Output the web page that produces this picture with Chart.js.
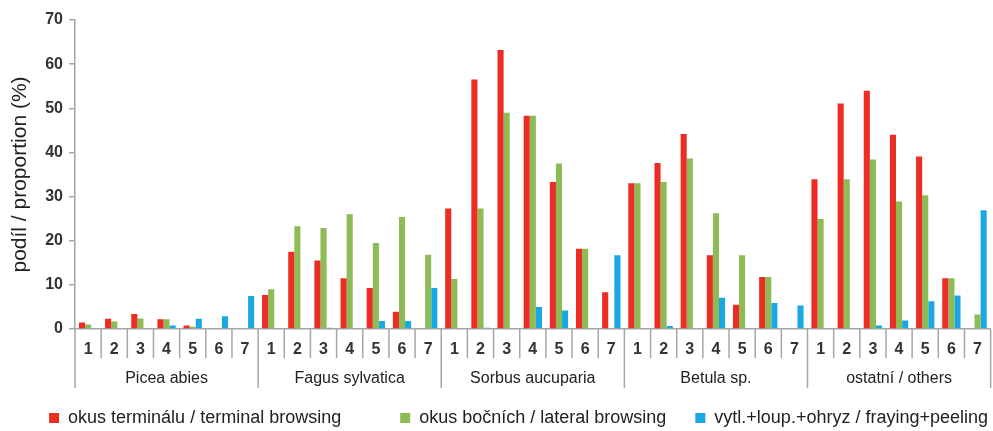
<!DOCTYPE html>
<html>
<head>
<meta charset="utf-8">
<script src="https://cdn.jsdelivr.net/npm/chart.js@4"></script>
<style>
  html, body { margin: 0; padding: 0; background: #fff; }
  #wrap { width: 993px; height: 431px; }
</style>
</head>
<body>
<div id="wrap"><canvas id="chart"></canvas></div>
<script>
// species groups, each with categories 1..7
const groups = ['Picea abies', 'Fagus sylvatica', 'Sorbus aucuparia', 'Betula sp.', 'ostatní / others'];
const classes = ['1', '2', '3', '4', '5', '6', '7'];
const yTicks = [0, 10, 20, 30, 40, 50, 60, 70];

// values (%)
const terminal = [
    1.5, 2.3, 3.4, 2.2, 0.8, 0, 0,
    7.7, 17.5, 15.5, 11.5, 9.3, 3.9, 0,
    27.3, 56.5, 63.2, 48.3, 33.3, 18.2, 8.3,
    33.0, 37.6, 44.2, 16.7, 5.5, 11.8, 0,
    33.9, 51.1, 54.0, 44.0, 39.1, 11.5, 0
];
const lateral = [
    1.0, 1.7, 2.4, 2.2, 0.5, 0.2, 0.2,
    9.0, 23.3, 22.9, 26.0, 19.5, 25.4, 16.8,
    11.3, 27.3, 49.0, 48.3, 37.5, 18.2, 0,
    33.0, 33.3, 38.6, 26.2, 16.7, 11.8, 0,
    24.9, 33.9, 38.4, 28.9, 30.3, 11.5, 3.3
];
const fraying = [
    0, 0, 0, 0.8, 2.3, 2.9, 7.5,
    0, 0, 0.3, 0, 1.8, 1.8, 9.3,
    0, 0.3, 0, 5.0, 4.2, 0, 16.7,
    0, 0.7, 0, 7.1, 0, 5.9, 5.3,
    0, 0.2, 0.8, 1.9, 6.3, 7.6, 26.9
];

const labels = [];
groups.forEach(() => classes.forEach(c => labels.push(c)));

const colors = ['#ec2d24', '#8dbb55', '#19a8e4'];
const axisGray = '#a6a6a6';
const family = 'Liberation Sans, Arial, sans-serif';

function bars(label, data, color) {
    return {
        label: label,
        data: data,
        backgroundColor: color,
        borderWidth: 0,
        barPercentage: 1.0,
        categoryPercentage: 0.7
    };
}

// boxes round the category numbers, longer lines between species
const cellLines = {
    id: 'cellLines',
    afterDraw(chart) {
        const x = chart.scales.x;
        const ctx = chart.ctx;
        const w = (x.right - x.left) / labels.length;
        ctx.save();
        ctx.strokeStyle = axisGray;
        ctx.lineWidth = 1.5;
        for (let i = 0; i <= labels.length; i++) {
            const px = x.left + i * w;
            const len = i % classes.length === 0 ? 59 : 29;
            ctx.beginPath();
            ctx.moveTo(px, x.top);
            ctx.lineTo(px, x.top + len);
            ctx.stroke();
        }
        ctx.restore();
    }
};

// extra spacing after the first two legend entries
const legendGaps = ['\u00a0'.repeat(10), '\u00a0'.repeat(4), ''];

new Chart(document.getElementById('chart'), {
    type: 'bar',
    data: {
        labels: labels,
        datasets: [
            bars('okus terminálu / terminal browsing', terminal, colors[0]),
            bars('okus bočních / lateral browsing', lateral, colors[1]),
            bars('vytl.+loup.+ohryz / fraying+peeling', fraying, colors[2])
        ]
    },
    plugins: [cellLines],
    options: {
        responsive: true,
        maintainAspectRatio: false,
        animation: false,
        layout: { padding: { top: 20, right: -4, left: 8, bottom: -6 } },
        scales: {
            x: {
                offset: true,
                grid: { display: false, drawTicks: false },
                border: { color: axisGray, width: 1.5 },
                afterFit: axis => { axis.height = 30; },
                ticks: {
                    font: { family: family, size: 16, weight: 'bold' },
                    color: '#333',
                    padding: 11,
                    maxRotation: 0,
                    autoSkip: false
                }
            },
            x2: {
                type: 'category',
                labels: groups,
                position: 'bottom',
                offset: true,
                grid: { display: false, drawTicks: false },
                border: { display: false },
                afterFit: axis => { axis.height = 41; },
                ticks: {
                    font: { family: family, size: 16 },
                    color: '#222',
                    padding: 10,
                    maxRotation: 0
                }
            },
            y: {
                min: 0,
                max: 70,
                afterBuildTicks: axis => {
                    axis.ticks = yTicks.map(v => ({ value: v }));
                },
                grid: {
                    drawOnChartArea: false,
                    color: axisGray,
                    lineWidth: 1.5,
                    tickLength: 6
                },
                border: { color: axisGray, width: 1.5 },
                ticks: {
                    font: { family: family, size: 16, weight: 'bold' },
                    color: '#333',
                    padding: 6
                },
                title: {
                    display: true,
                    text: 'podíl / proportion (%)',
                    font: { family: family, size: 21 },
                    color: '#222',
                    padding: { top: 0, bottom: 6 }
                }
            }
        },
        plugins: {
            legend: {
                position: 'bottom',
                align: 'end',
                labels: {
                    font: { family: family, size: 18 },
                    color: '#222',
                    boxWidth: 10,
                    boxHeight: 10,
                    padding: 9,
                    generateLabels: chart => {
                        const items = Chart.defaults.plugins.legend.labels.generateLabels(chart);
                        items.forEach((it, i) => { it.text = it.text + legendGaps[i]; });
                        return items;
                    }
                }
            },
            tooltip: { enabled: false }
        }
    }
});
</script>
</body>
</html>
